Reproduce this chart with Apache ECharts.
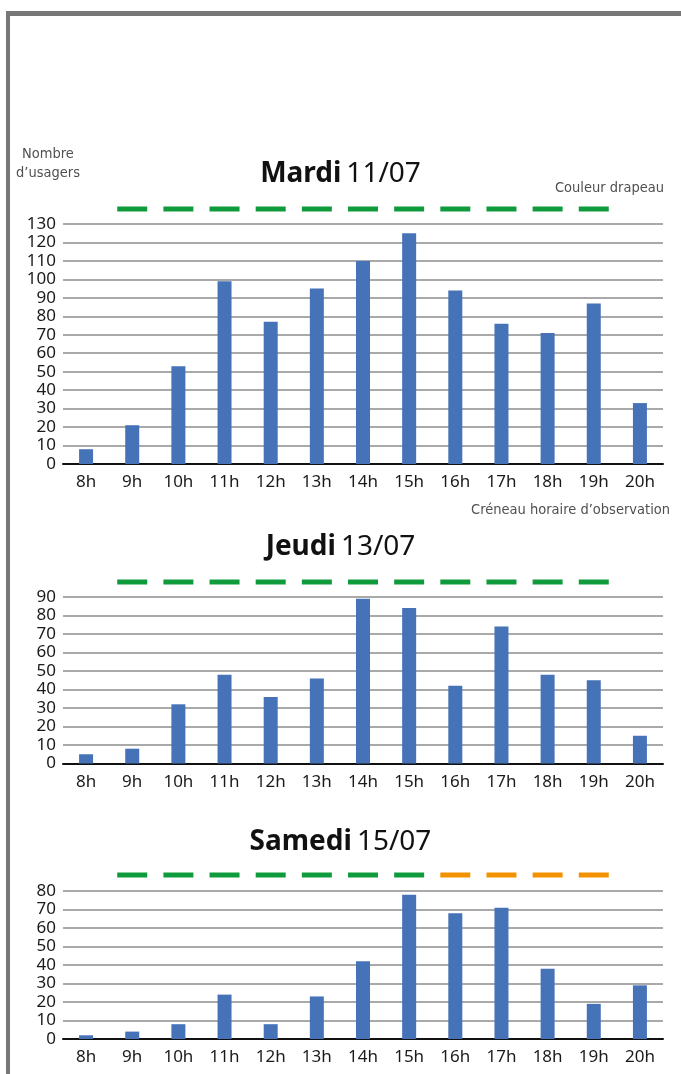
<!DOCTYPE html>
<html>
<head>
<meta charset="utf-8">
<script src="https://cdn.jsdelivr.net/npm/echarts@6/dist/echarts.min.js"></script>
<style>
  html, body { margin: 0; padding: 0; background: #fff; }
  #chart { width: 681px; height: 1074px; }
</style>
</head>
<body>
<div id="chart"></div>
<script>
// créneaux horaires
const hours = ["8h", "9h", "10h", "11h", "12h", "13h", "14h", "15h", "16h", "17h", "18h", "19h", "20h"];

// nombre d'usagers par créneau
const mardi = [8, 21, 53, 99, 77, 95, 110, 125, 94, 76, 71, 87, 33];
const jeudi = [5, 8, 32, 48, 36, 46, 89, 84, 42, 74, 48, 45, 15];
const samedi = [2, 4, 8, 24, 8, 23, 42, 78, 68, 71, 38, 19, 29];

// couleur drapeau par créneau ("" = pas d'observation)
const mardiFlags = ["", "vert", "vert", "vert", "vert", "vert", "vert", "vert", "vert", "vert", "vert", "vert", ""];
const jeudiFlags = ["", "vert", "vert", "vert", "vert", "vert", "vert", "vert", "vert", "vert", "vert", "vert", ""];
const samediFlags = ["", "vert", "vert", "vert", "vert", "vert", "vert", "vert", "orange", "orange", "orange", "orange", ""];

// axes max
const yMax = [130, 90, 80];

const days = [
  { name: "Mardi", date: "11/07", data: mardi, flags: mardiFlags },
  { name: "Jeudi", date: "13/07", data: jeudi, flags: jeudiFlags },
  { name: "Samedi", date: "15/07", data: samedi, flags: samediFlags },
];

const flagColors = { vert: "#0f9a3c", orange: "#f39200" };
const numFont = "'Noto Sans', 'Open Sans', sans-serif";
const narrowFont = "'Liberation Sans Narrow', 'DejaVu Sans Condensed', sans-serif";

// layout of the three panels
const barGrids = [
  { left: 63, width: 600, top: 224, height: 240 },
  { left: 63, width: 600, top: 597, height: 166.5 },
  { left: 63, width: 600, top: 891, height: 148 },
];
const flagGrids = [
  { left: 63, width: 600, top: 204, height: 10 },
  { left: 63, width: 600, top: 577, height: 10 },
  { left: 63, width: 600, top: 870, height: 10 },
];
const titleTops = [160, 533, 828];

const chart = echarts.init(document.getElementById("chart"));

const grid = [];
const xAxis = [];
const yAxis = [];
const series = [];
const title = [];

days.forEach((d, i) => {
  grid.push(barGrids[i]);
  xAxis.push({
    type: "category",
    gridIndex: i,
    data: hours,
    axisTick: { show: false },
    axisLine: { lineStyle: { color: "#111", width: 2 } },
    axisLabel: { color: "#1a1a1a", fontSize: 17, fontFamily: numFont, margin: 10 },
  });
  yAxis.push({
    type: "value",
    gridIndex: i,
    min: 0,
    max: yMax[i],
    interval: 10,
    axisLine: { show: false },
    axisTick: { show: false },
    axisLabel: { color: "#1a1a1a", fontSize: 17, fontFamily: numFont, margin: 7, padding: [0, 0, 5, 0] },
    splitLine: { lineStyle: { color: "#a9a9a9", width: 2 } },
  });
  series.push({
    type: "bar",
    xAxisIndex: i,
    yAxisIndex: i,
    barWidth: 14,
    itemStyle: { color: "#4672b8" },
    data: d.data,
  });
  title.push({
    text: "{b|" + d.name + "} {n|" + d.date + "}",
    left: "center",
    top: titleTops[i],
    padding: 0,
    textStyle: {
      fontWeight: "normal",
      rich: {
        b: { fontFamily: numFont, fontWeight: "bold", fontSize: 28, color: "#111" },
        n: { fontFamily: numFont, fontWeight: "normal", fontSize: 28, color: "#111" },
      },
    },
  });
});

// rangée "couleur drapeau" au-dessus de chaque graphique
days.forEach((d, i) => {
  const g = 3 + i;
  grid.push(flagGrids[i]);
  xAxis.push({ type: "category", gridIndex: g, data: hours, show: false });
  yAxis.push({ type: "value", gridIndex: g, min: 0, max: 1, show: false });
  series.push({
    type: "scatter",
    xAxisIndex: g,
    yAxisIndex: g,
    symbol: "rect",
    symbolSize: [30, 5],
    silent: true,
    itemStyle: { opacity: 1 },
    data: d.flags.map((f) =>
      f ? { value: 0.5, itemStyle: { color: flagColors[f], opacity: 1 } } : "-"
    ),
  });
});

const noteStyle = (text, align) => ({
  text: text,
  fill: "#505050",
  font: "14.5px " + narrowFont,
  align: align,
  verticalAlign: "middle",
});

chart.setOption({
  animation: false,
  title: title,
  grid: grid,
  xAxis: xAxis,
  yAxis: yAxis,
  series: series,
  graphic: [
    // cadre gris
    { type: "rect", shape: { x: 6, y: 11, width: 675, height: 5 }, style: { fill: "#777" } },
    { type: "rect", shape: { x: 6, y: 11, width: 4, height: 1063 }, style: { fill: "#777" } },
    { type: "text", x: 48, y: 154, style: noteStyle("Nombre", "center") },
    { type: "text", x: 48, y: 173, style: noteStyle("d\u2019usagers", "center") },
    { type: "text", x: 664, y: 188, style: noteStyle("Couleur drapeau", "right") },
    { type: "text", x: 670, y: 510, style: noteStyle("Cr\u00e9neau horaire d\u2019observation", "right") },
  ],
});
</script>
</body>
</html>
